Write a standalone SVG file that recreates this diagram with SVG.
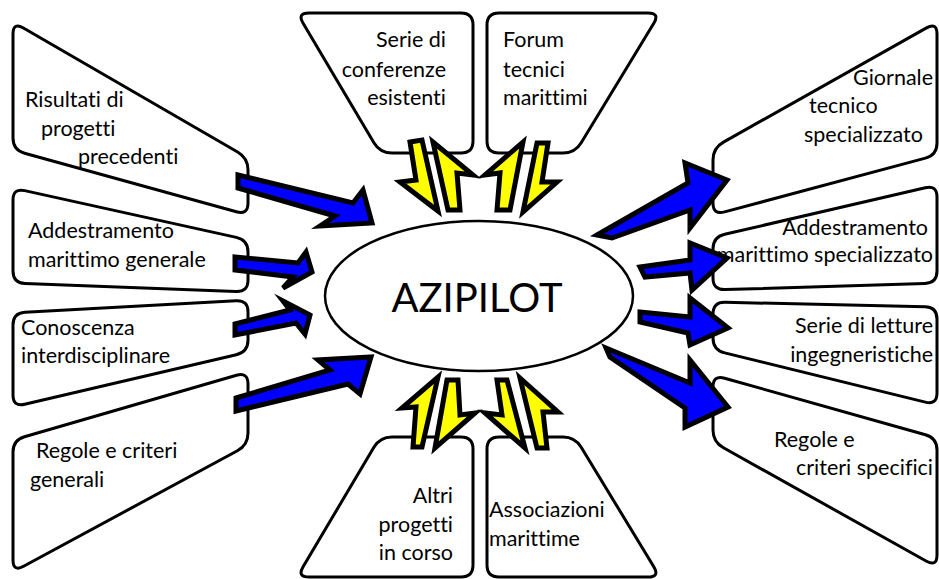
<svg xmlns="http://www.w3.org/2000/svg" width="939" height="579" viewBox="0 0 939 579">
<style>
.box{fill:#fff;stroke:#000;stroke-width:3;stroke-linejoin:round}
.t{font-family:Lato,"Liberation Sans",sans-serif;font-size:21.5px;fill:#000;font-variant-ligatures:none}
.e{text-anchor:end}
.blue{fill:#0000FF;stroke:#000;stroke-width:5;stroke-linejoin:miter;stroke-miterlimit:6}
.yel{fill:#FFFF00;stroke:#000;stroke-width:5;stroke-linejoin:miter;stroke-miterlimit:6}
</style>
<rect width="939" height="579" fill="#fff"/>
<g id="n1"><path class="box" d="M13,34 Q13,22 23.4,28 L237.6,152 Q248,158 248,170 L248,203 Q248,215 236.4,211.8 L24.6,153.2 Q13,150 13,138 Z"/>
<text class="t" x="25" y="107">Risultati di</text><text class="t" x="41" y="136">progetti</text><text class="t" x="78" y="164">precedenti</text></g>
<g id="n2"><path class="box" d="M13,200 Q13,188 24.7,190.6 L236.3,237.4 Q248,240 248,252 L248,280 Q248,292 236,291.5 L25,283.5 Q13,283 13,271 Z"/>
<text class="t" x="28" y="238">Addestramento</text><text class="t" x="28" y="267">marittimo generale</text></g>
<g id="n3"><path class="box" d="M13,325 Q13,313 25,312.3 L236,300.7 Q248,300 248,312 L248,340 Q248,352 236.3,354.7 L24.7,404.3 Q13,407 13,395 Z"/>
<text class="t" x="21" y="335">Conoscenza</text><text class="t" x="21" y="363">interdisciplinare</text></g>
<g id="n4"><path class="box" d="M13,452 Q13,440 24.5,436.7 L236.5,375.3 Q248,372 248,384 L248,433 Q248,445 237.4,450.7 L23.6,566.3 Q13,572 13,560 Z"/>
<text class="t" x="36" y="458">Regole e criteri</text><text class="t" x="30" y="487">generali</text></g>
<g id="n5"><path class="box" d="M303.1,23.3 Q297,13 309,13 L461,13 Q473,13 473,25 L473,141 Q473,153 461,153 L392,153 Q380,153 373.9,142.7 Z"/>
<text class="t e" x="446" y="47">Serie di</text><text class="t e" x="446" y="77">conferenze</text><text class="t e" x="446" y="105">esistenti</text></g>
<g id="n6"><path class="box" d="M487,25 Q487,13 499,13 L648,13 Q660,13 653.8,23.3 L581.2,142.7 Q575,153 563,153 L499,153 Q487,153 487,141 Z"/>
<text class="t" x="503" y="47">Forum</text><text class="t" x="503" y="77">tecnici</text><text class="t" x="503" y="105">marittimi</text></g>
<g id="n7"><path class="box" d="M303.1,566.7 Q297,577 309,577 L461,577 Q473,577 473,565 L473,449 Q473,437 461,437 L392,437 Q380,437 373.9,447.3 Z"/>
<text class="t e" x="453" y="503">Altri</text><text class="t e" x="453" y="532">progetti</text><text class="t e" x="453" y="560">in corso</text></g>
<g id="n8"><path class="box" d="M487,565 Q487,577 499,577 L648,577 Q660,577 653.8,566.7 L581.2,447.3 Q575,437 563,437 L499,437 Q487,437 487,449 Z"/>
<text class="t" x="489" y="517">Associazioni</text><text class="t" x="489" y="546">marittime</text></g>
<g id="n9"><path class="box" d="M713,160 Q713,148 723.5,142.1 L926.5,27.9 Q937,22 937,34 L937,143 Q937,155 925.4,158.1 L724.6,211.9 Q713,215 713,203 Z"/>
<text class="t e" x="933" y="85">Giornale</text><text class="t" x="809" y="113">tecnico</text><text class="t" x="804" y="142">specializzato</text></g>
<g id="n10"><path class="box" d="M713,249 Q713,237 724.7,234.3 L925.3,187.7 Q937,185 937,197 L937,271 Q937,283 925,283.4 L725,289.6 Q713,290 713,278 Z"/>
<text class="t e" x="928" y="235">Addestramento</text><text class="t e" x="933" y="262">marittimo specializzato</text></g>
<g id="n11"><path class="box" d="M713,314 Q713,302 725,302.3 L925,306.7 Q937,307 937,319 L937,393 Q937,405 925.3,402.1 L724.7,352.9 Q713,350 713,338 Z"/>
<text class="t e" x="933" y="333">Serie di letture</text><text class="t e" x="933" y="362">ingegneristiche</text></g>
<g id="n12"><path class="box" d="M713,387 Q713,375 724.6,378.2 L925.4,434.8 Q937,438 937,450 L937,555 Q937,567 926.5,561.2 L723.5,447.8 Q713,442 713,430 Z"/>
<text class="t" x="774" y="447">Regole e</text><text class="t" x="796" y="475">criteri specifici</text></g>
<g id="center"><ellipse cx="479" cy="296" rx="154" ry="75" fill="#fff" stroke="#000" stroke-width="2.5"/>
<text x="477" y="312" text-anchor="middle" font-family="Lato,'Liberation Sans',sans-serif" font-size="40">AZIPILOT</text></g>
<g id="connectors">
<polygon class="blue" points="238,175 353,203 363,190 372,223 320,226 335,216 238,188"/>
<polygon class="blue" points="235,257 298,263 306,252 312,272 283,288 293,277 235,270"/>
<polygon class="blue" points="235,324 290,310 283,301 310,315 305,334 296,323 235,335"/>
<polygon class="blue" points="236,398 330,370 318,360 371,357 360,394 348,384 236,411"/>
<polygon class="blue" points="597,235 688,183 685,163 727,180 690,228 690,210 612,238"/>
<polygon class="blue" points="640,267 690,260 690,243 727,258 692,290 690,273 645,277"/>
<polygon class="blue" points="640,312 690,317 690,298 728,328 690,345 688,333 640,322"/>
<polygon class="blue" points="606,348 690,383 690,360 728,407 685,427 685,408 610,357"/>
<polygon class="yel" points="410,142 422,140 438,211 400,182 416,180"/>
<polygon class="yel" points="448,210 433,142 473,175 457,173 460,210"/>
<polygon class="yel" points="523,142 510,210 497,210 500,173 485,175"/>
<polygon class="yel" points="537,143 548,143 542,182 557,182 523,212"/>
<polygon class="yel" points="438,377 422,447 413,447 416,407 402,408"/>
<polygon class="yel" points="447,380 458,380 460,415 475,413 435,448"/>
<polygon class="yel" points="497,380 507,380 525,448 485,413 502,415"/>
<polygon class="yel" points="520,378 558,412 543,412 547,448 537,448"/>
</g>
</svg>
